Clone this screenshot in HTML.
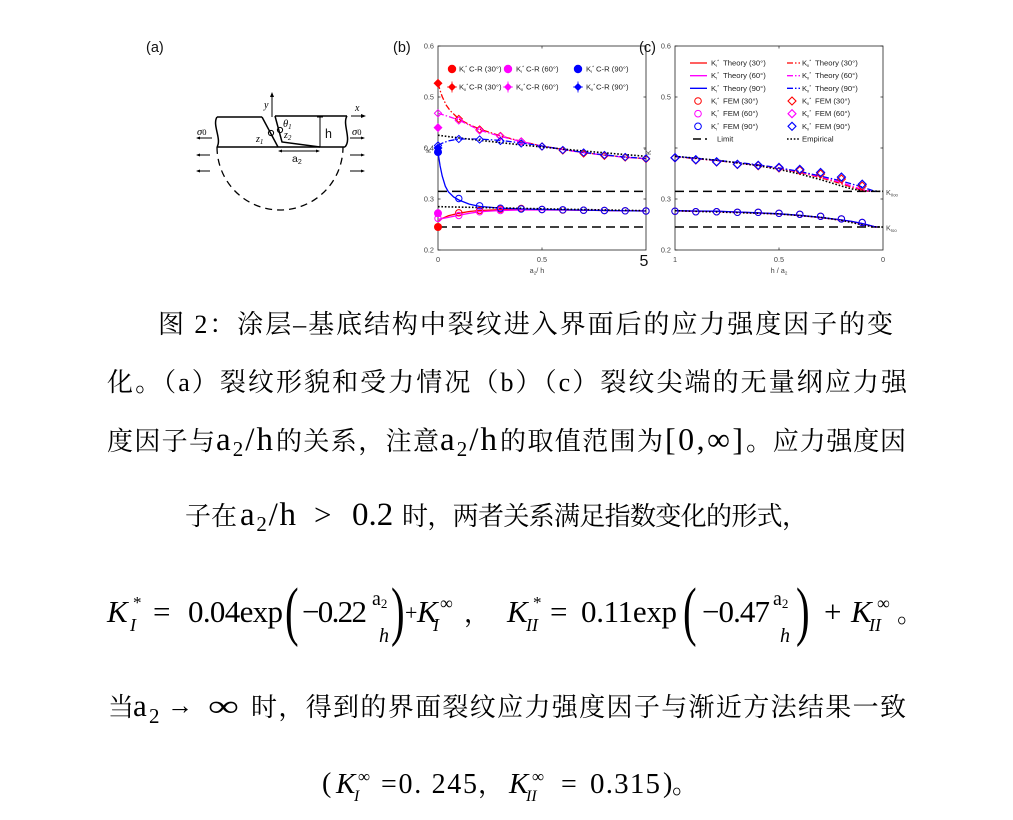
<!DOCTYPE html>
<html>
<head>
<meta charset="utf-8">
<style>
html,body{margin:0;padding:0;background:#fff;}
svg{display:block;}
.cn{font-family:"Liberation Serif","Noto Serif CJK SC",serif;font-size:26px;fill:#000;}
.m{font-family:"Liberation Serif","DejaVu Serif",serif;fill:#000;}
.mi{font-family:"Liberation Serif","DejaVu Serif",serif;font-style:italic;fill:#000;}
.ax{font-family:"Liberation Sans",sans-serif;font-size:7.3px;fill:#444;}
.lg{font-family:"Liberation Sans",sans-serif;font-size:7.7px;fill:#222;}
.sa{font-family:"Liberation Sans",sans-serif;fill:#111;}
</style>
</head>
<body>
<svg width="1013" height="820" viewBox="0 0 1013 820" xmlns="http://www.w3.org/2000/svg">
<rect width="1013" height="820" fill="#fff"/>

<!-- ============ (a) schematic ============ -->
<text class="sa" x="146" y="52" font-size="14.5">(a)</text>
<g stroke="#000" stroke-width="1.5" fill="none">
  <path d="M217,117 L262,117"/>
  <path d="M275,116 L347,116"/>
  <path d="M217,147 L345,147"/>
  <path d="M217,117 C212,125 222,139 217,147"/>
  <path d="M347,116 C342,124 352,139 345,147"/>
  <path d="M262,117 L278,147"/>
  <path d="M275,116 L282,142 L320,147"/>
</g>
<g stroke="#000" stroke-width="1" fill="none">
  <path d="M272,117 L272,95"/>
  <path d="M320,117 L320,147 M317,117 L323,117 M317,147 L323,147"/>
  <path d="M279,151 L319,151"/>
  <path d="M351,116 L364,116"/>
  <circle cx="271" cy="133" r="2.6"/>
  <circle cx="280" cy="130" r="2.6"/>
  <path d="M197,138 L212,138 M197,155 L210,155 M197,171 L210,171"/>
  <path d="M350,138 L363,138 M350,155 L363,155 M350,171 L363,171"/>
</g>
<g fill="#000">
  <path d="M272,92 L270,97 L274,97Z"/>
  <path d="M366,116 L361,114 L361,118Z"/>
  <path d="M278,151 L282,149.5 L282,152.5Z"/>
  <path d="M320,151 L316,149.5 L316,152.5Z"/>
  <path d="M196,138 L200,136.5 L200,139.5Z"/>
  <path d="M196,155 L200,153.5 L200,156.5Z"/>
  <path d="M196,171 L200,169.5 L200,172.5Z"/>
  <path d="M365,138 L361,136.5 L361,139.5Z"/>
  <path d="M365,155 L361,153.5 L361,156.5Z"/>
  <path d="M365,171 L361,169.5 L361,172.5Z"/>
</g>
<path d="M217,147 A63,63 0 0 0 343,147" stroke="#000" stroke-width="1.3" fill="none" stroke-dasharray="7,5"/>
<text class="mi" x="264" y="108" font-size="10">y</text>
<text class="mi" x="355" y="111" font-size="10">x</text>
<text class="mi" x="283" y="127" font-size="10.5">θ<tspan font-size="7" dy="2">1</tspan></text>
<text class="sa" x="325" y="138" font-size="12.5">h</text>
<text class="mi" x="256" y="142" font-size="10">z<tspan font-size="7" dy="2">1</tspan></text>
<text class="mi" x="284" y="138" font-size="10">z<tspan font-size="7" dy="2">2</tspan></text>
<text class="sa" x="292" y="162" font-size="10.5">a<tspan font-size="7" dy="2">2</tspan></text>
<text class="mi" x="197" y="135" font-size="10.5">σ<tspan font-size="8.5" font-style="normal">0</tspan></text>
<text class="mi" x="352" y="135" font-size="10.5">σ<tspan font-size="8.5" font-style="normal">0</tspan></text>

<!-- ============ (b) chart ============ -->
<text class="sa" x="393" y="52" font-size="14.5">(b)</text>
<rect x="438" y="46" width="208" height="204" fill="none" stroke="#222" stroke-width="0.8"/>
<g stroke="#222" stroke-width="0.7">
  <path d="M438,46h2.5M438,97h2.5M438,148h2.5M438,199h2.5M438,250h2.5"/>
  <path d="M646,46h-2.5M646,97h-2.5M646,148h-2.5M646,199h-2.5"/>
  <path d="M542,250v-2.5M542,46v2.5"/>
</g>
<text class="ax" x="434" y="48.5" text-anchor="end">0.6</text>
<text class="ax" x="434" y="99.5" text-anchor="end">0.5</text>
<text class="ax" x="434" y="150.5" text-anchor="end">0.4</text>
<text class="ax" x="434" y="201.5" text-anchor="end">0.3</text>
<text class="ax" x="434" y="252.5" text-anchor="end">0.2</text>
<text class="ax" x="438" y="262" text-anchor="middle">0</text>
<text class="ax" x="542" y="262" text-anchor="middle">0.5</text>
<text class="sa" x="644" y="266" font-size="16" text-anchor="middle">5</text>
<text class="ax" x="537" y="273" text-anchor="middle">a<tspan font-size="4.5" dy="1.5">2</tspan><tspan dy="-1.5">/ h</tspan></text>
<text class="ax" transform="translate(431,153) rotate(-90)">K<tspan font-size="5" dy="-3">*</tspan></text>

<!-- limits -->
<g stroke="#000" stroke-width="1.5" stroke-dasharray="9,5" fill="none">
  <path d="M438,191.35H646"/>
  <path d="M438,227.05H646"/>
</g>
<!-- KI theory -->
<g fill="none" stroke-width="1.3">
  <polyline stroke="#ff0000" points="438,221.95 442.2,218.4 448.4,215.8 458.8,213.3 469.2,211.5 479.6,210.5 500.4,209.7 521.2,209.7 562.8,210 604.4,210.5 646,211"/>
  <polyline stroke="#ff00ff" points="438,219.4 448.4,217.4 458.8,215.3 469.2,213.3 479.6,211.75 500.4,210.5 521.2,210 562.8,210 604.4,210.5 646,211"/>
  <polyline stroke="#0000ff" points="438,152.1 440.1,165.85 442.2,176 445.3,186.25 448.4,191.9 453.6,197 458.8,200 469.2,204.1 479.6,206.4 500.4,208.2 521.2,208.9 542,209.45 562.8,209.7 604.4,210.5 646,211"/>
</g>
<!-- KII theory dash-dot -->
<g fill="none" stroke-width="1.3" stroke-dasharray="6,2,1.5,2">
  <polyline stroke="#ff0000" points="438,83.2 440.1,90.5 442.2,96.6 446.3,105.3 450.5,111 458.8,118.9 469.2,124.5 479.6,129.1 500.4,135.8 521.2,141.4 542,146 562.8,149.5 583.6,152.6 604.4,155.1 625.2,157.2 646,158.7"/>
  <polyline stroke="#ff00ff" points="438,113.3 448.4,116.4 458.8,120 479.6,130.2 500.4,136.3 521.2,141.6 542,146.1 562.8,149.6 583.6,152.7 604.4,155.2 625.2,157.3 646,158.8"/>
  <polyline stroke="#0000ff" points="438,145.5 442.2,143.2 448.4,140.9 458.8,139 479.6,139 500.4,140.4 521.2,142.9 542,146 562.8,149.4 583.6,152.4 604.4,154.9 625.2,157 646,158.5"/>
</g>
<!-- empirical dotted -->
<g fill="none" stroke="#000" stroke-width="1.6" stroke-dasharray="1.6,1.8">
  <polyline points="438,206.65 458.8,207.1 479.6,207.5 500.4,207.9 542,208.8 583.6,209.56 646,210.7"/>
  <polyline points="438,135.25 458.8,137.9 479.6,140.3 500.4,142.6 521.2,144.9 542,147 562.8,149 583.6,151 604.4,152.8 625.2,154.6 646,156.3"/>
</g>
<!-- KI FEM circles -->
<g fill="none" stroke-width="1">
  <g stroke="#ff0000">
    <circle cx="458.8" cy="212.8" r="3.2"/><circle cx="479.6" cy="210.5" r="3.2"/><circle cx="500.4" cy="209.2" r="3.2"/><circle cx="521.2" cy="208.5" r="3.2"/><circle cx="542" cy="209.5" r="3.2"/><circle cx="562.8" cy="210" r="3.2"/><circle cx="583.6" cy="210.2" r="3.2"/><circle cx="604.4" cy="210.5" r="3.2"/><circle cx="625.2" cy="210.8" r="3.2"/><circle cx="646" cy="211" r="3.2"/>
  </g>
  <g stroke="#ff00ff">
    <circle cx="438" cy="218.4" r="3.2"/><circle cx="458.8" cy="215.5" r="3.2"/><circle cx="479.6" cy="211.8" r="3.2"/><circle cx="500.4" cy="210.5" r="3.2"/>
  </g>
  <g stroke="#0000ff">
    <circle cx="458.8" cy="198.5" r="3.2"/><circle cx="479.6" cy="205.8" r="3.2"/><circle cx="500.4" cy="208.2" r="3.2"/><circle cx="521.2" cy="209" r="3.2"/><circle cx="542" cy="209.5" r="3.2"/><circle cx="562.8" cy="209.8" r="3.2"/><circle cx="583.6" cy="210.2" r="3.2"/><circle cx="604.4" cy="210.5" r="3.2"/><circle cx="625.2" cy="210.8" r="3.2"/><circle cx="646" cy="211" r="3.2"/>
  </g>
</g>
<!-- KII FEM diamonds -->
<g fill="none" stroke-width="1">
  <path stroke="#ff0000" d="M458.8,115.3 l3.6,3.6 -3.6,3.6 -3.6,-3.6z M479.6,125.9 l3.6,3.6 -3.6,3.6 -3.6,-3.6z M500.4,132.4 l3.6,3.6 -3.6,3.6 -3.6,-3.6z M521.2,137.9 l3.6,3.6 -3.6,3.6 -3.6,-3.6z M542,142.9 l3.6,3.6 -3.6,3.6 -3.6,-3.6z M562.8,146.9 l3.6,3.6 -3.6,3.6 -3.6,-3.6z M583.6,149.9 l3.6,3.6 -3.6,3.6 -3.6,-3.6z M604.4,152.2 l3.6,3.6 -3.6,3.6 -3.6,-3.6z M625.2,153.9 l3.6,3.6 -3.6,3.6 -3.6,-3.6z M646,155.4 l3.6,3.6 -3.6,3.6 -3.6,-3.6z"/>
  <path stroke="#ff00ff" d="M438,109.7 l3.6,3.6 -3.6,3.6 -3.6,-3.6z M458.8,116.9 l3.6,3.6 -3.6,3.6 -3.6,-3.6z M479.6,126.9 l3.6,3.6 -3.6,3.6 -3.6,-3.6z M500.4,132.9 l3.6,3.6 -3.6,3.6 -3.6,-3.6z M521.2,137.9 l3.6,3.6 -3.6,3.6 -3.6,-3.6z"/>
  <path stroke="#0000ff" d="M438,141.9 l3.6,3.6 -3.6,3.6 -3.6,-3.6z M458.8,135.4 l3.6,3.6 -3.6,3.6 -3.6,-3.6z M479.6,135.9 l3.6,3.6 -3.6,3.6 -3.6,-3.6z M500.4,137.4 l3.6,3.6 -3.6,3.6 -3.6,-3.6z M521.2,139.9 l3.6,3.6 -3.6,3.6 -3.6,-3.6z M542,142.9 l3.6,3.6 -3.6,3.6 -3.6,-3.6z M562.8,146.4 l3.6,3.6 -3.6,3.6 -3.6,-3.6z M583.6,148.9 l3.6,3.6 -3.6,3.6 -3.6,-3.6z M604.4,151.4 l3.6,3.6 -3.6,3.6 -3.6,-3.6z M625.2,153.4 l3.6,3.6 -3.6,3.6 -3.6,-3.6z M646,154.9 l3.6,3.6 -3.6,3.6 -3.6,-3.6z"/>
</g>
<!-- C-R filled points -->
<circle cx="438" cy="227" r="4" fill="#ff0000"/>
<circle cx="438" cy="213.3" r="4" fill="#ff00ff"/>
<circle cx="438" cy="152.1" r="4" fill="#0000ff"/>
<path fill="#ff0000" d="M438,78.7 l4.5,4.5 -4.5,4.5 -4.5,-4.5z"/>
<path fill="#ff00ff" d="M438,123.1 l4.5,4.5 -4.5,4.5 -4.5,-4.5z"/>
<path fill="#0000ff" d="M438,143.5 l4.5,4.5 -4.5,4.5 -4.5,-4.5z"/>

<!-- legend b -->
<circle cx="452" cy="69" r="4.2" fill="#ff0000"/>
<circle cx="508" cy="69" r="4.2" fill="#ff00ff"/>
<circle cx="578" cy="69" r="4.2" fill="#0000ff"/>
<path fill="#ff0000" d="M452,83 l4,4 -4,4 -4,-4z"/>
<path fill="#ff00ff" d="M508,83 l4,4 -4,4 -4,-4z"/>
<path fill="#0000ff" d="M578,83 l4,4 -4,4 -4,-4z"/>
<g stroke-width="0.8">
  <path stroke="#ff0000" d="M452,81.5v11M447,87h10"/>
  <path stroke="#ff00ff" d="M508,81.5v11M503,87h10"/>
  <path stroke="#0000ff" d="M578,81.5v11M573,87h10"/>
</g>
<text class="lg" x="459" y="71.6">K<tspan font-size="4" dy="1.5">I</tspan><tspan font-size="4.5" dy="-4.5">*</tspan><tspan x="469" dy="3">C-R (30°)</tspan></text>
<text class="lg" x="516" y="71.6">K<tspan font-size="4" dy="1.5">I</tspan><tspan font-size="4.5" dy="-4.5">*</tspan><tspan x="526" dy="3">C-R (60°)</tspan></text>
<text class="lg" x="586" y="71.6">K<tspan font-size="4" dy="1.5">I</tspan><tspan font-size="4.5" dy="-4.5">*</tspan><tspan x="596" dy="3">C-R (90°)</tspan></text>
<text class="lg" x="459" y="89.6">K<tspan font-size="4" dy="1.5">II</tspan><tspan font-size="4.5" dy="-4.5">*</tspan><tspan x="469" dy="3">C-R (30°)</tspan></text>
<text class="lg" x="516" y="89.6">K<tspan font-size="4" dy="1.5">II</tspan><tspan font-size="4.5" dy="-4.5">*</tspan><tspan x="526" dy="3">C-R (60°)</tspan></text>
<text class="lg" x="586" y="89.6">K<tspan font-size="4" dy="1.5">II</tspan><tspan font-size="4.5" dy="-4.5">*</tspan><tspan x="596" dy="3">C-R (90°)</tspan></text>

<!-- ============ (c) chart ============ -->
<rect x="675" y="46" width="208" height="204" fill="none" stroke="#222" stroke-width="0.8"/>
<g stroke="#222" stroke-width="0.7">
  <path d="M675,46h2.5M675,97h2.5M675,148h2.5M675,199h2.5M675,250h2.5"/>
  <path d="M883,46h-2.5M883,97h-2.5M883,148h-2.5M883,199h-2.5"/>
  <path d="M779,250v-2.5M779,46v2.5"/>
</g>
<text class="ax" x="671" y="48.5" text-anchor="end">0.6</text>
<text class="ax" x="671" y="99.5" text-anchor="end">0.5</text>
<text class="ax" x="671" y="201.5" text-anchor="end">0.3</text>
<text class="ax" x="671" y="252.5" text-anchor="end">0.2</text>
<text class="ax" transform="translate(651,155) rotate(-90)">K<tspan font-size="5" dy="-3">*</tspan></text>
<text class="ax" x="675" y="262" text-anchor="middle">1</text>
<text class="ax" x="779" y="262" text-anchor="middle">0.5</text>
<text class="ax" x="883" y="262" text-anchor="middle">0</text>
<text class="ax" x="779" y="273" text-anchor="middle">h / a<tspan font-size="4.5" dy="1.5">2</tspan></text>
<text class="ax" x="886" y="195" font-size="6.8">K<tspan font-size="4.2" dy="1.5">IIoo</tspan></text>
<text class="ax" x="886" y="230.5" font-size="6.8">K<tspan font-size="4.2" dy="1.5">Ioo</tspan></text>
<text class="sa" x="639" y="52" font-size="14.5">(c)</text>

<g stroke="#000" stroke-width="1.5" stroke-dasharray="9,5" fill="none">
  <path d="M675,191.35H883"/>
  <path d="M675,227.05H883"/>
</g>
<g fill="none" stroke-width="1.3" stroke-dasharray="6,2,1.5,2">
  <polyline stroke="#ff0000" points="675,156.7 695.8,158.7 716.6,160.75 737.4,162.8 758.2,165.3 779,168.4 799.8,172.5 820.6,177.6 841.4,183.7 851.8,187.3 862.2,190.3 868.4,191.35"/>
  <polyline stroke="#ff00ff" points="675,156.5 695.8,158.5 716.6,160.5 737.4,162.6 758.2,165 779,168 799.8,172 820.6,176.8 841.4,182.5 862.2,189.5 870.5,191.35"/>
  <polyline stroke="#0000ff" points="675,156.3 695.8,158.3 716.6,160.3 737.4,162.4 758.2,164.8 779,167.9 799.8,171.5 820.6,176 841.4,181 862.2,187 872.6,190.5 876.8,191.35"/>
</g>
<g fill="none" stroke-width="1.3">
  <polyline stroke="#ff0000" points="675,210.9 695.8,211.2 716.6,211.4 737.4,212.2 758.2,213 779,214 799.8,215.5 820.6,217.6 841.4,220.1 851.8,221.6 862.2,223.7 868.4,225.2 874.7,226.8 876.8,227.05"/>
  <polyline stroke="#ff00ff" points="675,210.8 695.8,211.1 716.6,211.3 737.4,212.1 758.2,212.9 779,213.9 799.8,215.4 820.6,217.5 841.4,220 851.8,221.5 862.2,223.6 868.4,225.1 874.7,226.7 876.8,227.05"/>
  <polyline stroke="#0000ff" points="675,210.7 695.8,211 716.6,211.2 737.4,212 758.2,212.8 779,213.8 799.8,215.3 820.6,217.4 841.4,219.9 851.8,221.4 862.2,223.5 868.4,225 874.7,226.7 876.8,227.05"/>
</g>
<g fill="none" stroke="#000" stroke-width="1.6" stroke-dasharray="1.6,1.8">
  <polyline points="675,156.3 716.6,160.2 758.2,165.7 779,169.4 799.8,174 820.6,179.6 841.4,186 851.8,188.9 862.2,190.8 883,191.35"/>
  <polyline points="675,210.7 779,213.9 820.6,217.3 841.4,220.3 862.2,224.8 872.6,226.8 883,227.05"/>
</g>
<g fill="none" stroke-width="1">
  <g stroke="#ff0000">
    <circle cx="675" cy="211.2" r="3.2"/><circle cx="695.8" cy="211.75" r="3.2"/><circle cx="716.6" cy="211.75" r="3.2"/><circle cx="737.4" cy="212.3" r="3.2"/><circle cx="758.2" cy="212.3" r="3.2"/><circle cx="779" cy="213.3" r="3.2"/><circle cx="799.8" cy="214.3" r="3.2"/><circle cx="820.6" cy="216.3" r="3.2"/><circle cx="841.4" cy="218.9" r="3.2"/><circle cx="862.2" cy="222.5" r="3.2"/>
  </g>
  <g stroke="#0000ff">
    <circle cx="675" cy="211.2" r="3.2"/><circle cx="695.8" cy="211.75" r="3.2"/><circle cx="716.6" cy="211.75" r="3.2"/><circle cx="737.4" cy="212.3" r="3.2"/><circle cx="758.2" cy="212.3" r="3.2"/><circle cx="779" cy="213.3" r="3.2"/><circle cx="799.8" cy="214.3" r="3.2"/><circle cx="820.6" cy="216.3" r="3.2"/><circle cx="841.4" cy="218.9" r="3.2"/><circle cx="862.2" cy="222.5" r="3.2"/>
  </g>
  <path stroke="#ff0000" d="M675,153.9 l4,4 -4,4 -4,-4z M695.8,156 l4,4 -4,4 -4,-4z M716.6,158 l4,4 -4,4 -4,-4z M737.4,160.5 l4,4 -4,4 -4,-4z M758.2,161.8 l4,4 -4,4 -4,-4z M779,164 l4,4 -4,4 -4,-4z M799.8,166.5 l4,4 -4,4 -4,-4z M820.6,170 l4,4 -4,4 -4,-4z M841.4,175 l4,4 -4,4 -4,-4z M862.2,182 l4,4 -4,4 -4,-4z"/>
  <path stroke="#0000ff" stroke-width="1.2" d="M675,153.7 l4,4 -4,4 -4,-4z M695.8,155.7 l4,4 -4,4 -4,-4z M716.6,157.8 l4,4 -4,4 -4,-4z M737.4,160.3 l4,4 -4,4 -4,-4z M758.2,161.3 l4,4 -4,4 -4,-4z M779,163.4 l4,4 -4,4 -4,-4z M799.8,165.4 l4,4 -4,4 -4,-4z M820.6,168.5 l4,4 -4,4 -4,-4z M841.4,173.1 l4,4 -4,4 -4,-4z M862.2,180.2 l4,4 -4,4 -4,-4z"/>
</g>

<!-- legend c -->
<g fill="none" stroke-width="1.3">
  <path stroke="#ff0000" d="M690,63H707"/>
  <path stroke="#ff00ff" d="M690,75.7H707"/>
  <path stroke="#0000ff" d="M690,88.3H707"/>
  <g stroke-dasharray="6,2,1.5,2">
    <path stroke="#ff0000" d="M787,63H800"/>
    <path stroke="#ff00ff" d="M787,75.7H800"/>
    <path stroke="#0000ff" d="M787,88.3H800"/>
  </g>
  <circle cx="698" cy="101" r="3.3" stroke="#ff0000" stroke-width="1"/>
  <circle cx="698" cy="113.7" r="3.3" stroke="#ff00ff" stroke-width="1"/>
  <circle cx="698" cy="126.3" r="3.3" stroke="#0000ff" stroke-width="1"/>
  <path stroke="#ff0000" stroke-width="1.1" d="M792,97 l4,4 -4,4 -4,-4z"/>
  <path stroke="#ff00ff" stroke-width="1.1" d="M792,109.7 l4,4 -4,4 -4,-4z"/>
  <path stroke="#0000ff" stroke-width="1.1" d="M792,122.3 l4,4 -4,4 -4,-4z"/>
  <path stroke="#000" stroke-width="1.5" stroke-dasharray="8,4" d="M693,139H707"/>
  <path stroke="#000" stroke-width="1.6" stroke-dasharray="1.6,1.8" d="M787,139H800"/>
</g>
<text class="lg" x="711" y="65.5">K<tspan font-size="4" dy="1.5">I</tspan><tspan font-size="4.5" dy="-4.5">*</tspan><tspan x="723" dy="3">Theory (30°)</tspan></text>
<text class="lg" x="711" y="78.2">K<tspan font-size="4" dy="1.5">I</tspan><tspan font-size="4.5" dy="-4.5">*</tspan><tspan x="723" dy="3">Theory (60°)</tspan></text>
<text class="lg" x="711" y="90.8">K<tspan font-size="4" dy="1.5">I</tspan><tspan font-size="4.5" dy="-4.5">*</tspan><tspan x="723" dy="3">Theory (90°)</tspan></text>
<text class="lg" x="711" y="103.5">K<tspan font-size="4" dy="1.5">I</tspan><tspan font-size="4.5" dy="-4.5">*</tspan><tspan x="723" dy="3">FEM (30°)</tspan></text>
<text class="lg" x="711" y="116.2">K<tspan font-size="4" dy="1.5">I</tspan><tspan font-size="4.5" dy="-4.5">*</tspan><tspan x="723" dy="3">FEM (60°)</tspan></text>
<text class="lg" x="711" y="128.8">K<tspan font-size="4" dy="1.5">I</tspan><tspan font-size="4.5" dy="-4.5">*</tspan><tspan x="723" dy="3">FEM (90°)</tspan></text>
<text class="lg" x="717" y="141.5">Limit</text>
<text class="lg" x="802" y="65.5">K<tspan font-size="4" dy="1.5">II</tspan><tspan font-size="4.5" dy="-4.5">*</tspan><tspan x="815" dy="3">Theory (30°)</tspan></text>
<text class="lg" x="802" y="78.2">K<tspan font-size="4" dy="1.5">II</tspan><tspan font-size="4.5" dy="-4.5">*</tspan><tspan x="815" dy="3">Theory (60°)</tspan></text>
<text class="lg" x="802" y="90.8">K<tspan font-size="4" dy="1.5">II</tspan><tspan font-size="4.5" dy="-4.5">*</tspan><tspan x="815" dy="3">Theory (90°)</tspan></text>
<text class="lg" x="802" y="103.5">K<tspan font-size="4" dy="1.5">II</tspan><tspan font-size="4.5" dy="-4.5">*</tspan><tspan x="815" dy="3">FEM (30°)</tspan></text>
<text class="lg" x="802" y="116.2">K<tspan font-size="4" dy="1.5">II</tspan><tspan font-size="4.5" dy="-4.5">*</tspan><tspan x="815" dy="3">FEM (60°)</tspan></text>
<text class="lg" x="802" y="128.8">K<tspan font-size="4" dy="1.5">II</tspan><tspan font-size="4.5" dy="-4.5">*</tspan><tspan x="815" dy="3">FEM (90°)</tspan></text>
<text class="lg" x="802" y="141.5">Empirical</text>

<!-- ============ Caption text ============ -->
<text class="cn" x="158" y="333" textLength="735" lengthAdjust="spacing">图 2：涂层–基底结构中裂纹进入界面后的应力强度因子的变</text>
<text class="cn" x="107" y="391" textLength="800" lengthAdjust="spacing">化。（a）裂纹形貌和受力情况（b）（c）裂纹尖端的无量纲应力强</text>

<text class="cn" x="107" y="450" textLength="108" lengthAdjust="spacing">度因子与</text>
<text class="m" x="216" y="450" font-size="33" textLength="57" lengthAdjust="spacing">a<tspan font-size="21" dy="6">2</tspan><tspan dy="-6">/h</tspan></text>
<text class="cn" x="276" y="450" textLength="163" lengthAdjust="spacing">的关系，注意</text>
<text class="m" x="440" y="450" font-size="33" textLength="57" lengthAdjust="spacing">a<tspan font-size="21" dy="6">2</tspan><tspan dy="-6">/h</tspan></text>
<text class="cn" x="500" y="450" textLength="163" lengthAdjust="spacing">的取值范围为</text>
<text class="m" x="665" y="450" font-size="32" textLength="78" lengthAdjust="spacing">[0,∞]</text>
<text class="cn" x="746" y="450" textLength="160" lengthAdjust="spacing">。应力强度因</text>

<text class="cn" x="185" y="525" textLength="52" lengthAdjust="spacing">子在</text>
<text class="m" x="240" y="525" font-size="33" textLength="56" lengthAdjust="spacing">a<tspan font-size="21" dy="6">2</tspan><tspan dy="-6">/h</tspan></text>
<text class="m" x="314" y="525" font-size="31">&gt;</text>
<text class="m" x="352" y="525" font-size="33">0.2</text>
<text class="cn" x="402" y="525" textLength="406" lengthAdjust="spacing">时，两者关系满足指数变化的形式，</text>

<!-- formula -->
<text class="mi" x="107" y="622" font-size="31">K</text>
<text class="mi" x="130" y="631" font-size="18">I</text>
<text class="m" x="133" y="608" font-size="17">*</text>
<text class="m" x="153" y="622" font-size="31">=</text>
<text class="m" x="188" y="622" font-size="31" textLength="95" lengthAdjust="spacing">0.04exp</text>
<text class="m" font-size="66" transform="translate(285,633) scale(0.62,1)">(</text>
<text class="m" x="302" y="622" font-size="31" textLength="65" lengthAdjust="spacing">−0.22</text>
<text class="m" x="372" y="605" font-size="20">a<tspan font-size="13" dy="3">2</tspan></text>
<text class="mi" x="379" y="642" font-size="20">h</text>
<text class="m" font-size="66" transform="translate(391,633) scale(0.62,1)">)</text>
<text class="m" x="405" y="620" font-size="22">+</text>
<text class="mi" x="417" y="622" font-size="31">K</text>
<text class="mi" x="433" y="631" font-size="18">I</text>
<text class="m" x="440" y="609" font-size="18">∞</text>
<text class="cn" x="464" y="622">，</text>

<text class="mi" x="507" y="622" font-size="31">K</text>
<text class="mi" x="526" y="631" font-size="18">II</text>
<text class="m" x="533" y="608" font-size="17">*</text>
<text class="m" x="550" y="622" font-size="31">=</text>
<text class="m" x="581" y="622" font-size="31" textLength="96" lengthAdjust="spacing">0.11exp</text>
<text class="m" font-size="66" transform="translate(683,633) scale(0.62,1)">(</text>
<text class="m" x="702" y="622" font-size="31" textLength="68" lengthAdjust="spacing">−0.47</text>
<text class="m" x="773" y="605" font-size="20">a<tspan font-size="13" dy="3">2</tspan></text>
<text class="mi" x="780" y="642" font-size="20">h</text>
<text class="m" font-size="66" transform="translate(796,633) scale(0.62,1)">)</text>
<text class="m" x="824" y="622" font-size="31">+</text>
<text class="mi" x="851" y="622" font-size="31">K</text>
<text class="mi" x="869" y="631" font-size="18">II</text>
<text class="m" x="877" y="609" font-size="18">∞</text>
<text class="cn" x="897" y="622">。</text>

<text class="cn" x="108" y="716">当</text>
<text class="m" x="133" y="716" font-size="31">a</text>
<text class="m" x="149" y="723" font-size="21">2</text>
<text class="m" x="167" y="714" font-size="26">→</text>
<text class="m" font-size="30" transform="translate(208,716) scale(1.45,1)">∞</text>
<text class="cn" x="251" y="716" textLength="655" lengthAdjust="spacing">时，得到的界面裂纹应力强度因子与渐近方法结果一致</text>

<text class="m" x="322" y="792" font-size="28">(</text>
<text class="mi" x="336" y="793" font-size="29">K</text>
<text class="mi" x="354" y="801" font-size="16">I</text>
<text class="m" x="358" y="782" font-size="17">∞</text>
<text class="m" x="381" y="793" font-size="28" textLength="96" lengthAdjust="spacing">=0. 245</text>
<text class="cn" x="478" y="793">，</text>
<text class="mi" x="509" y="793" font-size="29">K</text>
<text class="mi" x="526" y="801" font-size="16">II</text>
<text class="m" x="532" y="782" font-size="17">∞</text>
<text class="m" x="561" y="793" font-size="28">=</text>
<text class="m" x="590" y="793" font-size="29" textLength="70" lengthAdjust="spacing">0.315</text>
<text class="m" x="663" y="792" font-size="28">)</text>
<text class="cn" x="672" y="793">。</text>
</svg>
</body>
</html>
